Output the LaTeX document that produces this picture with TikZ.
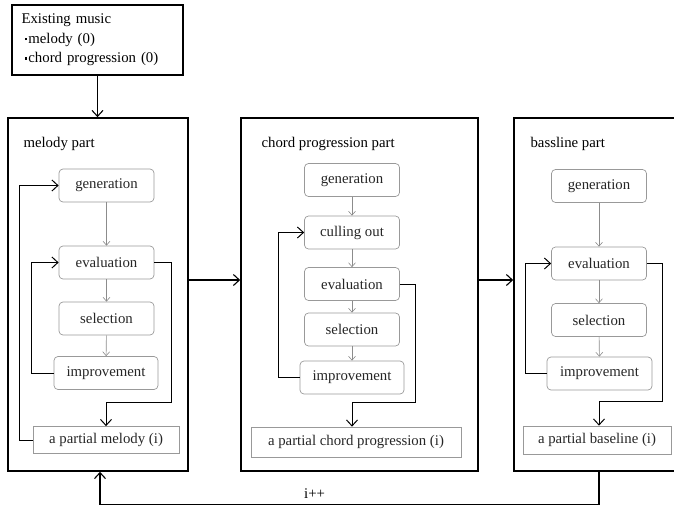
\documentclass[tikz,border=0pt]{standalone}
\usepackage{fontspec}
\setmainfont{Liberation Serif}
\usepackage{tikz}
\usetikzlibrary{arrows.meta, calc, positioning}

\newcommand{\itemdot}{\hspace*{3pt}\raisebox{0.45ex}{\rule{2.4pt}{2.4pt}}\hspace{1.5pt}}

\begin{document}
\begin{tikzpicture}[x=1pt, y=-1pt,
    font=\fontsize{14.8}{17.5}\selectfont,
    part/.style={draw, line width=1.6pt, minimum height=353pt},
    stage/.style={draw=gray!80, rounded corners=4pt, line width=0.7pt, minimum width=95pt, minimum height=33pt, inner sep=1pt, text=black!85},
    result/.style={draw=gray!80, line width=0.7pt, minimum height=27pt, inner sep=1pt, text=black!85},
    flow/.style={-{Straight Barb[length=6pt, width=11pt]}, line width=1.1pt},
    stepline/.style={-{Straight Barb[length=4pt, width=7pt]}, gray!90, line width=0.6pt},
    back/.style={-{Straight Barb[length=6pt, width=11pt]}, line width=1pt}]
    \useasboundingbox (0,0) rectangle (674,506);
    \clip (0,0) rectangle (674,506);

    % source
    \node[draw, line width=1.6pt, minimum width=171pt, minimum height=70pt, align=left, text width=152pt, inner xsep=9pt, inner ysep=4pt, font=\fontsize{14.8}{19.5}\selectfont] (exist) at (97.5,40)
        {Existing music\\\itemdot melody (0)\\\itemdot chord progression (0)};

    % three parts
    \node[part, minimum width=180pt] (melody) at (98,294.5) {};
    \node[part, minimum width=237pt] (chord) at (359.5,294.5) {};
    \node[part, minimum width=180pt] (bass) at (604,294.5) {};
    \node[anchor=west] (mlabel) at (20,144) {melody part};
    \node[anchor=west] (clabel) at (258,144) {chord progression part};
    \node[anchor=west] (blabel) at (527,144) {bassline part};

    % melody part
    \node[stage] (mgen) at (106.5,185.5) {generation};
    \node[stage] (meval) at (106.5,262.5) {evaluation};
    \node[stage] (msel) at (106.5,318.5) {selection};
    \node[stage, minimum width=104pt] (mimp) at (106,373) {improvement};
    \node[result, minimum width=146pt] (mout) at (106,440) {a partial melody (i)};
    \draw[stepline] (mgen) -- (meval);
    \draw[stepline] (meval) -- (msel);
    \draw[stepline] (msel) -- (mimp);
    \draw[back] (mout.west) -- ++(-13,0) |- (mgen.west);
    \draw[back] (mimp.west) -- ++(-22,0) |- (meval.west);
    \draw[back] (meval.east) -- ++(17,0) |- ($(mout.north)+(0,-24)$) -- (mout.north);

    % chord progression part
    \node[stage] (cgen) at (352,180) {generation};
    \node[stage] (ccull) at (352,232.5) {culling out};
    \node[stage] (ceval) at (352,284) {evaluation};
    \node[stage] (csel) at (352,329.5) {selection};
    \node[stage, minimum width=104pt] (cimp) at (352,377.5) {improvement};
    \node[result, minimum width=210pt, minimum height=30pt] (cout) at (356,442) {a partial chord progression (i)};
    \draw[stepline] (cgen) -- (ccull);
    \draw[stepline] (ccull) -- (ceval);
    \draw[stepline] (ceval) -- (csel);
    \draw[stepline] (csel) -- (cimp);
    \draw[back] (cimp.west) -- ++(-21,0) |- (ccull.west);
    \draw[back] (ceval.east) -- ++(16,0) |- ($(cout.north -| ceval.south)+(0,-24)$) -- (cout.north -| ceval.south);

    % bassline part
    \node[stage] (bgen) at (599,186) {generation};
    \node[stage] (beval) at (599,263.5) {evaluation};
    \node[stage] (bsel) at (599,320) {selection};
    \node[stage, minimum width=105pt] (bimp) at (599.5,373.5) {improvement};
    \node[result, minimum width=148pt, minimum height=28pt] (bout) at (597,440) {a partial baseline (i)};
    \draw[stepline] (bgen) -- (beval);
    \draw[stepline] (beval) -- (bsel);
    \draw[stepline] (bsel) -- (bimp);
    \draw[back] (bimp.west) -- ++(-21,0) |- (beval.west);
    \draw[back] (beval.east) -- ++(16,0) |- ($(bout.north -| beval.south)+(0,-24)$) -- (bout.north -| beval.south);

    % between parts
    \draw[flow] (exist.south) -- (exist.south |- melody.north);
    \draw[flow] ([yshift=14.5pt]melody.east) -- ([yshift=14.5pt]chord.west);
    \draw[flow] ([yshift=14.5pt]chord.east) -- ([yshift=14.5pt]bass.west);
    \draw[flow] (bass.south -| bgen.south) -- ++(0,33) -| node[pos=0.285, above=2pt] (inc) {i++} ([xshift=2pt]melody.south);
\end{tikzpicture}
\end{document}
